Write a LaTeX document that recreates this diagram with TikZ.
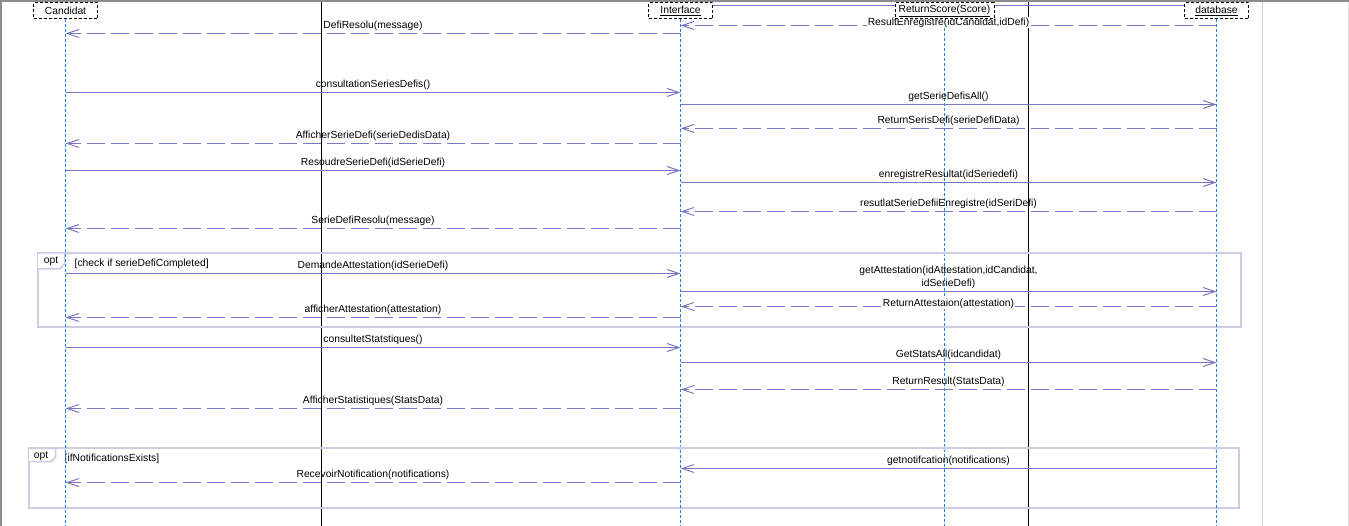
\documentclass[tikz,border=0pt]{standalone}
\usepackage{fontspec}
\setmainfont{Liberation Sans}
\usetikzlibrary{arrows.meta}

\definecolor{msgcol}{RGB}{120,120,190}
\definecolor{lifecol}{RGB}{30,130,235}
\definecolor{framecol}{RGB}{204,204,226}

\tikzset{
  lbl/.style={font=\fontsize{10.3}{13}\selectfont},
  part/.style={lbl, draw=black, dash pattern=on 3pt off 2pt, line width=1pt, fill=white, minimum width=64pt, minimum height=16pt, inner sep=2pt},
  lifeline/.style={lifecol, line width=1pt, dash pattern=on 3pt off 2pt},
  call/.style={msgcol, line width=1pt, -{Straight Barb[length=12pt,width=8pt]}},
  reply/.style={call, dash pattern=on 18pt off 6pt},
  msglbl/.style={lbl, text=black, above=0.5pt, inner sep=1.5pt},
  onlbl/.style={msglbl, above=-3.5pt, inner sep=0.5pt, fill=white},
  optframe/.style={framecol, line width=2pt},
  opttab/.style={framecol, line width=1.5pt, fill=white},
  guard/.style={lbl, anchor=west, inner sep=0pt},
}

\begin{document}
\begin{tikzpicture}[x=1pt,y=-1pt]
\useasboundingbox (0,0) rectangle (1349,526);

% window border
\draw[black!45,line width=1.5pt] (0,1) -- (1349,1);
\draw[black!45,line width=1.5pt] (0.75,0) -- (0.75,526);
\draw[black!12] (1348,2) -- (1348,526);
\draw[framecol] (1262.5,2) -- (1262.5,526);
\draw[black] (321.5,2) -- (321.5,526);
\draw[black] (1028.5,2) -- (1028.5,526);

% opt 1
\draw[optframe] (38,253) rectangle (1241,326.7);
\draw[opttab] (38,253) -- (64.5,253) -- (64.5,264) -- (59.5,269) -- (38,269);
\node[lbl] (opt1) at (51,261) {opt};
\node[guard] (grd1) at (74.5,264) {[check if serieDefiCompleted]};

% opt 2
\draw[optframe] (29,448.3) rectangle (1239,508.3);
\draw[opttab] (29,448.3) -- (55.7,448.3) -- (55.7,457) -- (51,461.7) -- (29,461.7);
\node[lbl] (opt2) at (41,456.5) {opt};
\node[guard] (grd2) at (64.5,459) {[ifNotificationsExists]};

% participants
\node[part] (cand)  at (65.5,11)   {Candidat};
\node[part] (iface) at (680.5,11)  {\underline{Interface}};
\node[part] (db)    at (1216.5,11) {\underline{database}};

\draw[lifeline] (cand.south)  -- (cand |- 0,526);
\draw[lifeline] (iface.south) -- (iface |- 0,526);
\draw[lifeline] (db.south)    -- (db |- 0,526);

\draw[reply] (db |- 0,25.5) -- node[onlbl] (m1) {ResultEnregistre(idCandidat,idDefi)} (iface |- 0,25.5);

\node[part, minimum width=99pt] (score) at (944.5,11) {\underline{ReturnScore(Score)}};
\draw[lifeline] (score |- m1.south) -- (score |- 0,526);
\draw[msgcol,line width=1pt] (iface.east |- 0,5.5) -- (score.west |- 0,5.5) (score.east |- 0,5.5) -- (db.west |- 0,5.5);

% lifeline marks at the frames
\fill[lifecol!30] (iface |- 0,253) circle (2pt);
\fill[lifecol!30] (score |- 0,253) circle (2pt);
\fill[lifecol!30] (db |- 0,253)    circle (2pt);
\fill[lifecol!30] (iface |- 0,448.3) circle (2pt);
\fill[lifecol!30] (score |- 0,448.3) circle (2pt);
\fill[lifecol!30] (db |- 0,448.3)    circle (2pt);

% messages
\draw[reply] (iface |- 0,33.5) -- node[msglbl] (m2) {DefiResolu(message)} (cand |- 0,33.5);
\draw[call] (cand |- 0,92.5) -- node[msglbl] (m3) {consultationSeriesDefis()} (iface |- 0,92.5);
\draw[call] (iface |- 0,104.5) -- node[msglbl] (m4) {getSerieDefisAll()} (db |- 0,104.5);
\draw[reply] (db |- 0,128.5) -- node[msglbl] (m5) {ReturnSerisDefi(serieDefiData)} (iface |- 0,128.5);
\draw[reply] (iface |- 0,143.5) -- node[msglbl] (m6) {AfficherSerieDefi(serieDedisData)} (cand |- 0,143.5);
\draw[call] (cand |- 0,170.5) -- node[msglbl] (m7) {ResoudreSerieDefi(idSerieDefi)} (iface |- 0,170.5);
\draw[call] (iface |- 0,182.5) -- node[msglbl] (m8) {enregistreResultat(idSeriedefi)} (db |- 0,182.5);
\draw[reply] (db |- 0,211.5) -- node[msglbl] (m9) {resutlatSerieDefiiEnregistre(idSeriDefi)} (iface |- 0,211.5);
\draw[reply] (iface |- 0,228.5) -- node[msglbl] (m10) {SerieDefiResolu(message)} (cand |- 0,228.5);

\draw[call] (cand |- 0,273.5) -- node[msglbl] (m11) {DemandeAttestation(idSerieDefi)} (iface |- 0,273.5);
\draw[call] (iface |- 0,291.5) -- node[msglbl, align=center] (m12) {getAttestation(idAttestation,idCandidat,\\idSerieDefi)} (db |- 0,291.5);
\draw[reply] (db |- 0,306.5) -- node[onlbl] (m13) {ReturnAttestaion(attestation)} (iface |- 0,306.5);
\draw[reply] (iface |- 0,317.5) -- node[msglbl] (m14) {afficherAttestation(attestation)} (cand |- 0,317.5);

\draw[call] (cand |- 0,347.5) -- node[msglbl] (m15) {consultetStatstiques()} (iface |- 0,347.5);
\draw[call] (iface |- 0,362.5) -- node[msglbl] (m16) {GetStatsAll(idcandidat)} (db |- 0,362.5);
\draw[reply] (db |- 0,389.5) -- node[msglbl] (m17) {ReturnResult(StatsData)} (iface |- 0,389.5);
\draw[reply] (iface |- 0,408.5) -- node[msglbl] (m18) {AfficherStatistiques(StatsData)} (cand |- 0,408.5);

\draw[call] (db |- 0,468.5) -- node[msglbl] (m19) {getnotifcation(notifications)} (iface |- 0,468.5);
\draw[reply] (iface |- 0,482.5) -- node[msglbl] (m20) {RecevoirNotification(notifications)} (cand |- 0,482.5);

\end{tikzpicture}
\end{document}
